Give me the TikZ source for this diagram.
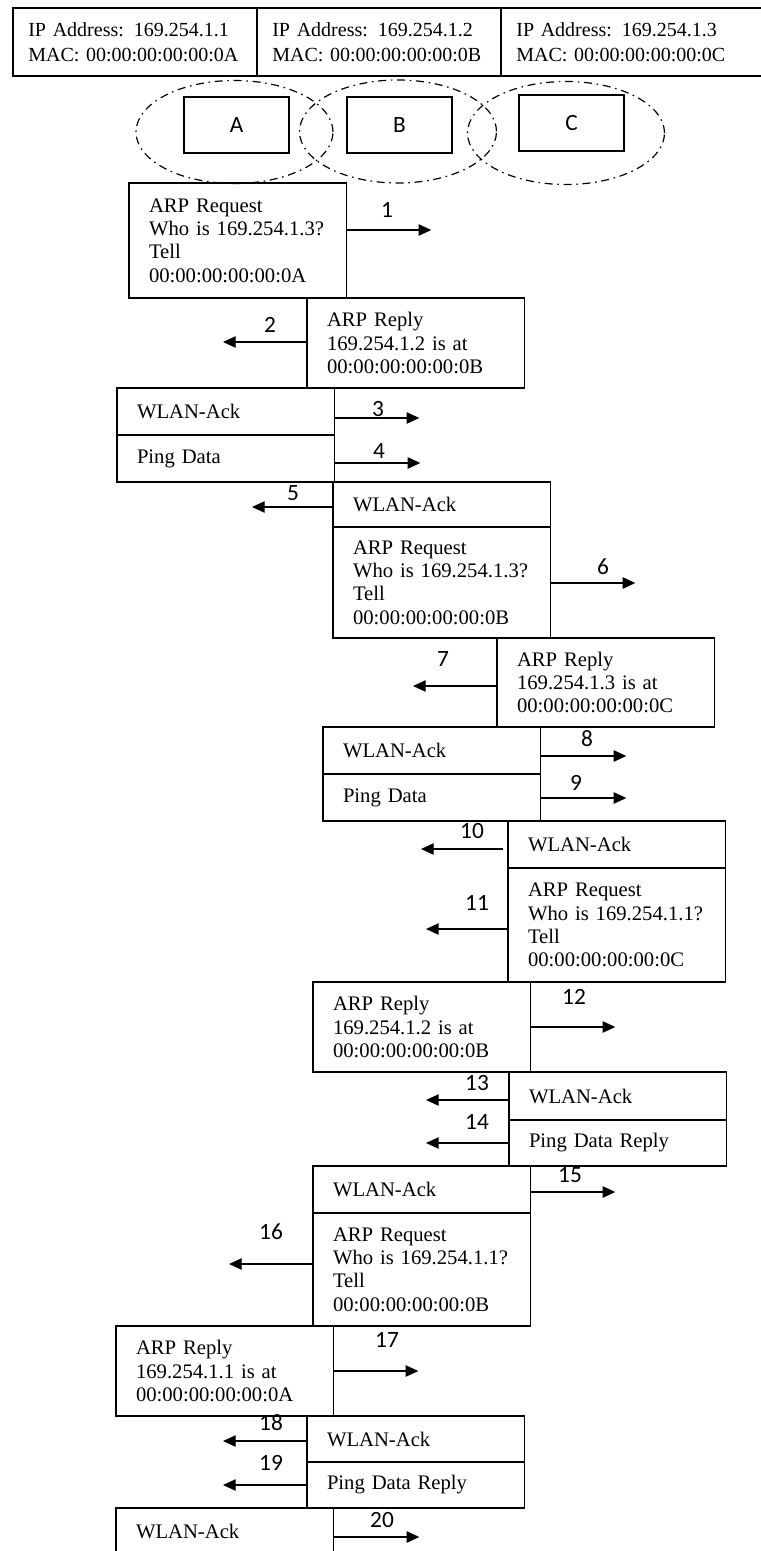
\documentclass[tikz,border=0pt]{standalone}
\usepackage{fontspec}
\setmainfont{Liberation Serif}
\newfontfamily\numfont{Carlito}
\usetikzlibrary{arrows.meta,positioning,shapes.geometric}

\begin{document}
\begin{tikzpicture}[x=0.75pt,y=-0.75pt,
  box/.style={draw,line width=1.1pt,outer sep=0pt},
  cell/.style={box,anchor=north west,align=left,text width=160pt,
    inner xsep=11.5pt,minimum height=51pt,
    font=\fontsize{15}{18.75}\selectfont},
  msg/.style={box,anchor=north west,align=left,text width=133pt,
    inner xsep=15pt,inner ysep=0pt,minimum height=#1*0.75pt,
    font=\fontsize{15.5}{17.5}\selectfont},
  radio/.style={draw,ellipse,line width=0.9pt,
    dash pattern=on 6pt off 3.5pt on 1.2pt off 3.5pt,
    minimum width=147.75pt,minimum height=77.25pt,inner sep=0pt},
  station/.style={box,minimum width=78.75pt,minimum height=42pt,
    font=\numfont\fontsize{17.5}{20}\selectfont},
  tx/.style={line width=1pt,-{Triangle[length=9.5pt,width=8.5pt]}},
  num/.style={font=\numfont\fontsize{17.5}{20}\selectfont,inner sep=0pt}]
  \useasboundingbox (0,0) rectangle (760,1551);
  % --- Address table ---
  \node[cell] (ipA) at (13,8) {IP Address: 169.254.1.1\\MAC: 00:00:00:00:00:0A};
  \node[cell] (ipB) at (257,8) {IP Address: 169.254.1.2\\MAC: 00:00:00:00:00:0B};
  \node[cell,text width=174pt] (ipC) at (501,8)
    {IP Address: 169.254.1.3\\MAC: 00:00:00:00:00:0C};
  % --- Stations and radio ranges ---
  \node[radio] (rngA) at (234.5,132) {};
  \node[radio] (rngB) at (398,131.5) {};
  \node[radio] (rngC) at (566,133) {};
  \node[station] (staA) at (236.5,125) {A};
  \node[station] (staB) at (399.5,125) {B};
  \node[station] (staC) at (571.5,123) {C};
  % --- Step 1: A asks for C ---
  \node[msg=115] (req1) at (129,183)
    {ARP Request\\Who is 169.254.1.3?\\Tell\\00:00:00:00:00:0A};
  \draw[tx] (req1.east |- 0,230) -- ++(85,0);
  \node[num] (n1) at (387,210) {1};
  % Step 2: B replies
  \node[msg=90] (rep2) at (307,298)
    {ARP Reply\\169.254.1.2 is at\\00:00:00:00:00:0B};
  \draw[tx] (rep2.west |- 0,342) -- ++(-84,0);
  \node[num] (n2) at (270,325) {2};
  % Steps 3-4: A acks and sends ping
  \node[msg=47] (ack3) at (117,388) {WLAN-Ack};
  \node[msg=47,below=0pt of ack3] (ping4) {Ping Data};
  \draw[tx] (ack3.east |- 0,418) -- ++(85,0);
  \node[num] (n3) at (378,409) {3};
  \draw[tx] (ping4.east |- 0,463) -- ++(86,0);
  \node[num] (n4) at (379,451) {4};
  % Steps 5-6: B acks and asks for C
  \node[msg=45] (ack5) at (333,482) {WLAN-Ack};
  \node[msg=111,below=0pt of ack5] (req6)
    {ARP Request\\Who is 169.254.1.3?\\Tell\\00:00:00:00:00:0B};
  \draw[tx] (ack5.west |- 0,507) -- ++(-81,0);
  \node[num] (n5) at (293,493) {5};
  \draw[tx] (req6.east |- 0,583) -- ++(85,0);
  \node[num] (n6) at (603,567) {6};
  % Step 7: C replies
  \node[msg=89] (rep7) at (497,638)
    {ARP Reply\\169.254.1.3 is at\\00:00:00:00:00:0C};
  \draw[tx] (rep7.west |- 0,686) -- ++(-84,0);
  \node[num] (n7) at (443,659) {7};
  % Steps 8-9: B acks and forwards ping
  \node[msg=47] (ack8) at (323,727) {WLAN-Ack};
  \node[msg=47,below=0pt of ack8] (ping9) {Ping Data};
  \draw[tx] (ack8.east |- 0,756) -- ++(86,0);
  \node[num] (n8) at (587,739) {8};
  \draw[tx] (ping9.east |- 0,798) -- ++(86,0);
  \node[num] (n9) at (576,783) {9};
  % Steps 10-11: C acks and asks for A
  \node[msg=47] (ack10) at (508,821) {WLAN-Ack};
  \node[msg=114,below=0pt of ack10] (req11)
    {ARP Request\\Who is 169.254.1.1?\\Tell\\00:00:00:00:00:0C};
  \draw[tx,shorten <=3.75pt] (ack10.west |- 0,849) -- ++(-87,0);
  \node[num] (n10) at (472,831) {10};
  \draw[tx] (req11.west |- 0,929) -- ++(-82,0);
  \node[num] (n11) at (477,903) {11};
  % Step 12: B replies
  \node[msg=90] (rep12) at (313,982)
    {ARP Reply\\169.254.1.2 is at\\00:00:00:00:00:0B};
  \draw[tx] (rep12.east |- 0,1027) -- ++(85,0);
  \node[num] (n12) at (574,997) {12};
  % Steps 13-14: C acks and sends ping reply
  \node[msg=48] (ack13) at (509,1072) {WLAN-Ack};
  \node[msg=46,below=0pt of ack13] (pingr14) {Ping Data Reply};
  \draw[tx] (ack13.west |- 0,1100) -- ++(-83,0);
  \node[num] (n13) at (477,1083) {13};
  \draw[tx] (pingr14.west |- 0,1143) -- ++(-83,0);
  \node[num] (n14) at (477,1122) {14};
  % Steps 15-16: B acks and asks for A
  \node[msg=47] (ack15) at (313,1166) {WLAN-Ack};
  \node[msg=113,below=0pt of ack15] (req16)
    {ARP Request\\Who is 169.254.1.1?\\Tell\\00:00:00:00:00:0B};
  \draw[tx] (ack15.east |- 0,1192) -- ++(85,0);
  \node[num] (n15) at (570,1175) {15};
  \draw[tx] (req16.west |- 0,1264) -- ++(-84,0);
  \node[num] (n16) at (271,1232) {16};
  % Step 17: A replies
  \node[msg=90] (rep17) at (116,1326)
    {ARP Reply\\169.254.1.1 is at\\00:00:00:00:00:0A};
  \draw[tx] (rep17.east |- 0,1371) -- ++(85,0);
  \node[num] (n17) at (387,1340) {17};
  % Steps 18-19: B acks and forwards ping reply
  \node[msg=46] (ack18) at (307,1416) {WLAN-Ack};
  \node[msg=46,below=0pt of ack18] (pingr19) {Ping Data Reply};
  \draw[tx] (ack18.west |- 0,1441) -- ++(-84,0);
  \node[num] (n18) at (271,1423) {18};
  \draw[tx] (pingr19.west |- 0,1485) -- ++(-84,0);
  \node[num] (n19) at (271,1463) {19};
  % Step 20: A acks
  \node[msg=47] (ack20) at (116,1508) {WLAN-Ack};
  \draw[tx] (ack20.east |- 0,1537) -- ++(86,0);
  \node[num] (n20) at (382,1520) {20};
\end{tikzpicture}
\end{document}
